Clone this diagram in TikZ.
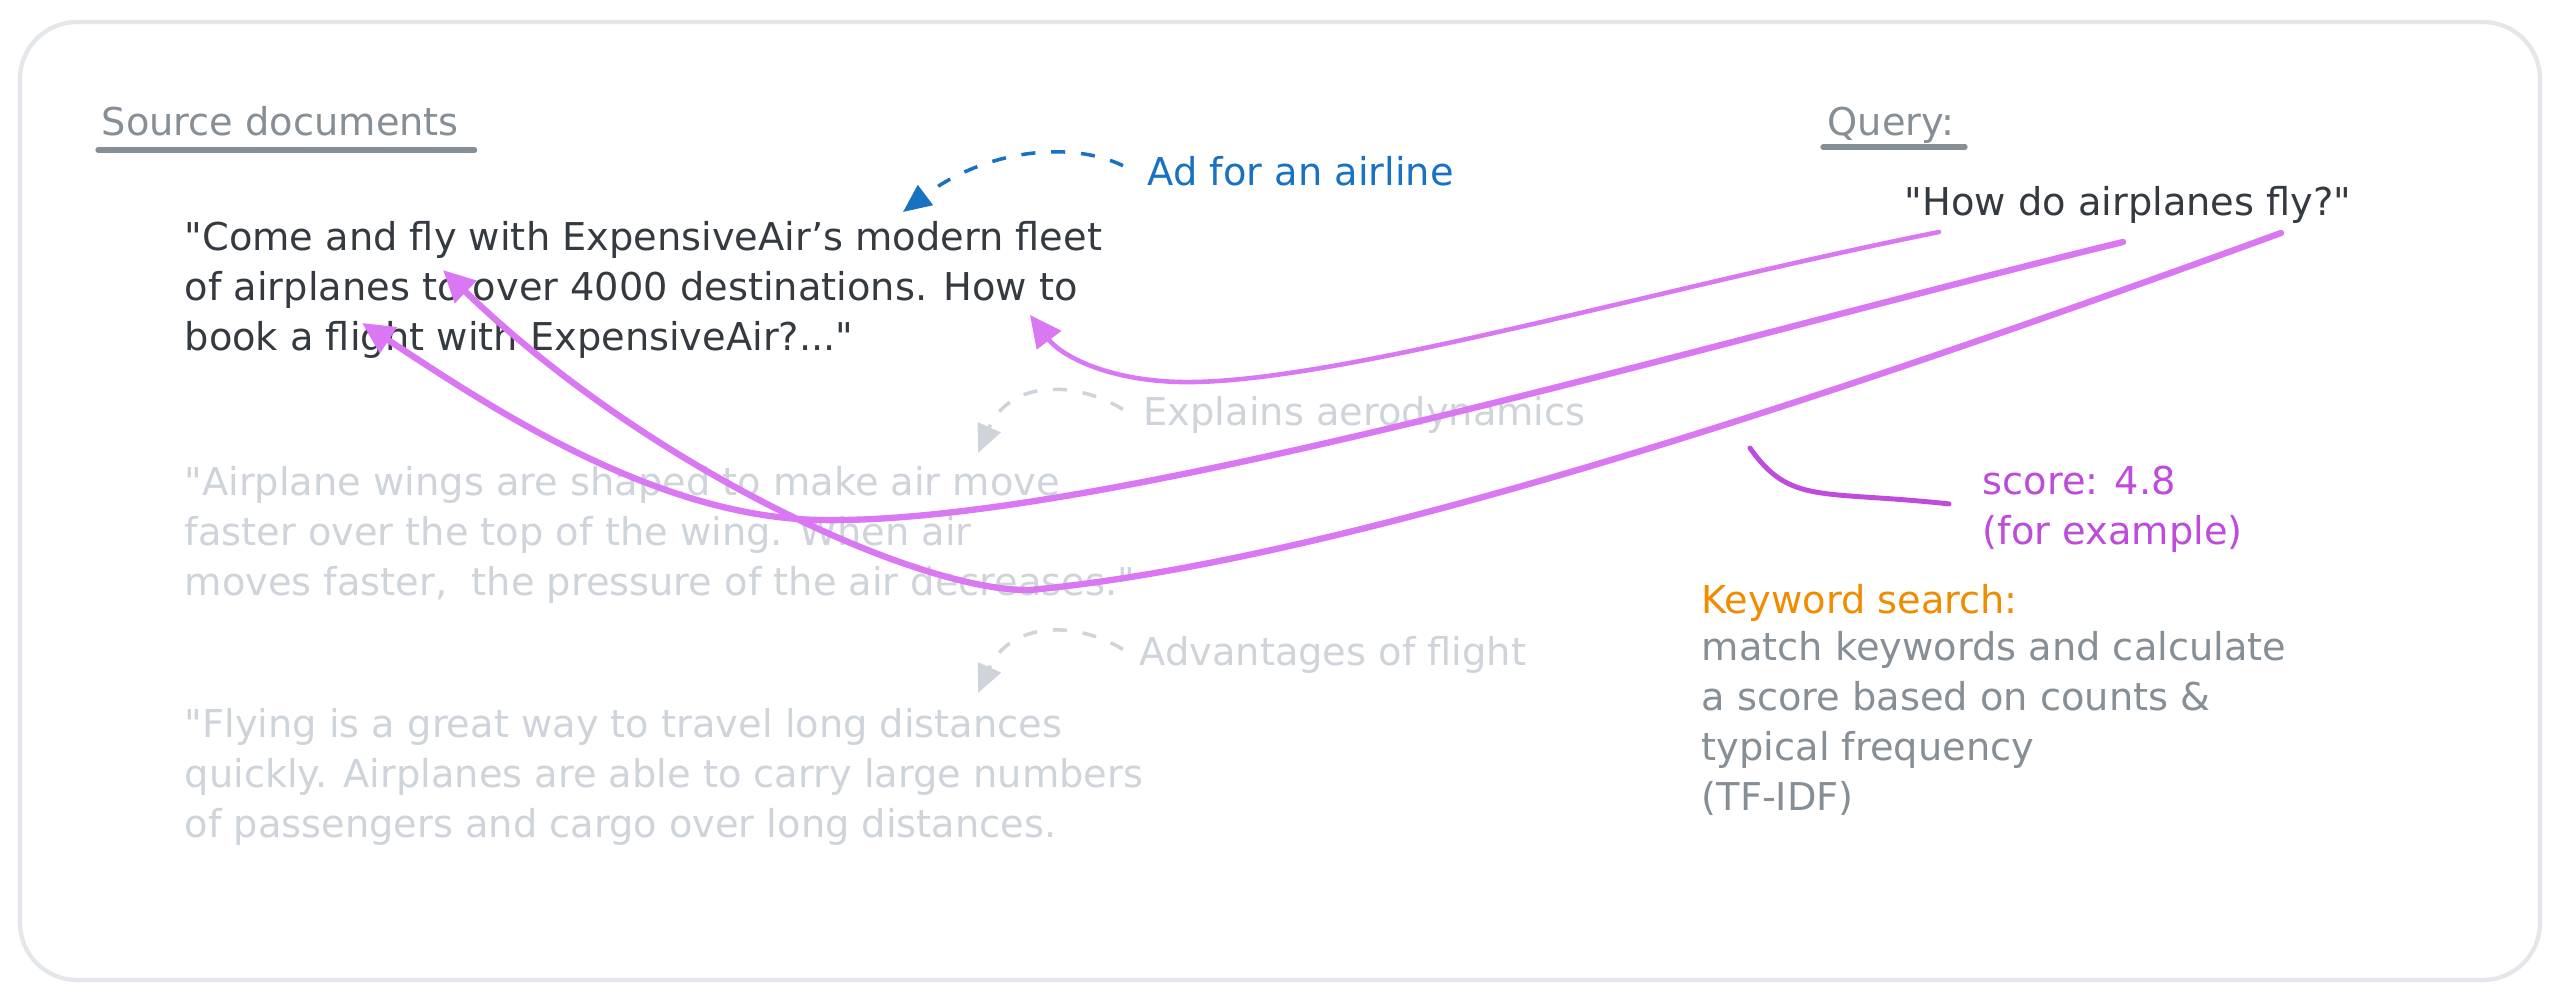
\documentclass[tikz,border=0pt]{standalone}
\usepackage{fontspec}
\setmainfont{DejaVu Sans}
\usetikzlibrary{arrows.meta, positioning, calc}

\definecolor{inkblack}{HTML}{343A40}
\definecolor{inkgray}{HTML}{868E96}
\definecolor{fadegray}{HTML}{CED4DA}
\definecolor{noteblue}{HTML}{1971C2}
\definecolor{linkviolet}{HTML}{DA77F2}
\definecolor{scoreviolet}{HTML}{BE4BDB}
\definecolor{kworange}{HTML}{F08C00}
\definecolor{framegray}{HTML}{E3E6EA}

\newcommand{\qt}{\textquotedbl}

\begin{document}
\begin{tikzpicture}[
        % pixel-like units, y grows downwards
        x=0.01cm, y=-0.01cm,
        font=\fontsize{10.9}{14.2}\selectfont,
        % text blocks sit on the baseline of their last line
        txt/.style={inner sep=0pt, anchor=base west, align=left},
        heading/.style={txt, text=inkgray},
        doc/.style={txt, text=inkblack},
        faded/.style={txt, text=fadegray},
        underline/.style={draw=inkgray, line width=1.5pt, line cap=round},
        notearrow/.style={line width=1pt, dash pattern=on 4pt off 4.5pt, -{Triangle[length=8pt, width=7pt]}},
        match/.style={draw=linkviolet, line width=1.8pt, line cap=round, -{Triangle[length=9pt, width=8.5pt]}}
    ]

    \useasboundingbox (0,0) rectangle (2560,1000);
    \fill[white] (0,0) rectangle (2560,1000);

    % Rahmen
    \draw[framegray, line width=1.2pt, rounded corners=0.57cm] (20,22) rectangle (2540,980);

    % Ueberschriften
    \node (srchead) [heading] at (101,135) {Source documents};
    \draw[underline] ($(srchead.base west)+(-3,15)$) -- ($(srchead.base east)+(15,15)$);

    \node (queryhead) [heading] at (1827,135) {Query:};
    \draw[underline] ($(queryhead.base west)+(-4,12)$) -- ($(queryhead.base east)+(10,12)$);

    % Quelldokumente
    \node (docad) [doc] at (184,350) {\qt Come and fly with ExpensiveAir’s modern fleet\\of airplanes to over 4000 destinations. How to\\book a flight with ExpensiveAir?...\qt};

    \node (docwing) [faded] at (184,595) {\qt Airplane wings are shaped to make air move\\faster over the top of the wing. When air\\moves faster, \ the pressure of the air decreases.\qt};

    \node (docflight) [faded] at (184,837) {\qt Flying is a great way to travel long distances\\quickly. Airplanes are able to carry large numbers\\of passengers and cargo over long distances.};

    % Anmerkungen
    \node (adnote) [txt, text=noteblue] at (1147,185) {Ad for an airline};
    \node (aeronote) [faded] at (1143,425) {Explains aerodynamics};
    \node (advnote) [faded] at (1139,665) {Advantages of flight};

    \coordinate (adtip) at (903,212);
    \coordinate (aerotip) at (978,453);
    \coordinate (advtip) at (978,693);

    \draw[notearrow, noteblue] ($(adnote.west)+(-24,-5)$) .. controls (1070,140) and (985,150) .. (adtip);
    \draw[notearrow, fadegray] ($(aeronote.west)+(-20,-5)$) .. controls (1075,380) and (1010,380) .. (aerotip);
    \draw[notearrow, fadegray] ($(advnote.west)+(-16,-5)$) .. controls (1075,620) and (1010,622) .. (advtip);

    % Anfrage
    \node (query) [doc] at (1904,215) {\qt How do airplanes fly?\qt};

    \coordinate (q-how) at (1939,232);
    \coordinate (q-planes) at (2123,242);
    \coordinate (q-fly) at (2281,233);

    \coordinate (d-howto) at (1030,315);
    \coordinate (d-planes) at (362,323);
    \coordinate (d-fly) at (443,270);

    % Treffer
    \draw[match, line width=1.3pt] (q-how) .. controls (1650,290) and (1330,385) .. (1180,382)
        .. controls (1100,380) and (1058,352) .. (d-howto);
    \draw[match] (q-planes) .. controls (1700,345) and (1100,525) .. (820,520)
        .. controls (650,517) and (480,400) .. (d-planes);
    \draw[match] (q-fly) .. controls (1850,390) and (1350,560) .. (1030,590)
        .. controls (920,592) and (650,470) .. (d-fly);

    % Bewertung
    \node (score) [txt, text=scoreviolet] at (1982,544) {score: 4.8\\(for example)};
    \coordinate (scorehook) at (1750,448);
    \draw[scoreviolet, line width=1.4pt, line cap=round] (scorehook) .. controls (1790,505) and (1820,490) .. ($(score.north west)+(-33,39)$);

    % Verfahren
    \node (kwtitle) [txt, text=kworange] at (1701,613) {Keyword search:};
    \node (kwbody) [txt, text=inkgray] at (1701,810) {match keywords and calculate\\a score based on counts \&\\typical frequency\\(TF-IDF)};

\end{tikzpicture}
\end{document}
